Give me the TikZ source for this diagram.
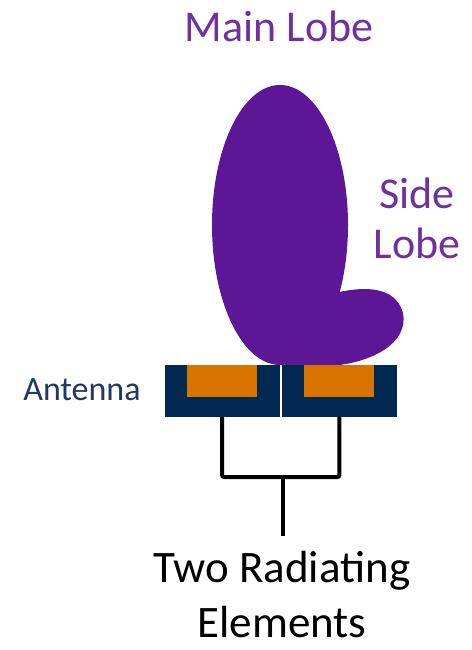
\documentclass[tikz,border=0pt]{standalone}
\usepackage{fontspec}
\setmainfont{Carlito}
\usetikzlibrary{positioning}

\definecolor{lobepurple}{RGB}{92,22,150}
\definecolor{labelpurple}{RGB}{112,48,160}
\definecolor{boardnavy}{RGB}{0,40,80}
\definecolor{antnavy}{RGB}{31,56,100}
\definecolor{patchorange}{RGB}{217,115,0}

\begin{document}
\begin{tikzpicture}[
		x=1pt,y=-1pt,
		lobe/.style={
			fill=lobepurple
		},
		biglabel/.style={
			font=\fontsize{44}{50}\selectfont,
			text=labelpurple,
			inner sep=0pt,
			anchor=base
		},
		cell/.style={
			fill=boardnavy,
			minimum width=115pt,
			minimum height=52pt,
			inner sep=0pt
		},
		patch/.style={
			fill=patchorange,
			minimum width=70pt,
			minimum height=32pt,
			inner sep=0pt
		},
		wire/.style={
			draw=black,
			line width=4pt,
			rounded corners=2pt
		}
	]
	\useasboundingbox (0,0) rectangle (471,650);

	% lobes of the radiation pattern
	\fill[lobe] (335,293) .. controls (360,287) and (395,284) .. (403,313)
		.. controls (409,343) and (372,363) .. (330,366) -- (285,367) -- (280,300) -- cycle;
	\fill[lobe] (280,225) ellipse [x radius=68pt, y radius=140pt];

	\node[biglabel] (mainlbl) at (279,42) {Main Lobe};
	\node[biglabel] (sidelbl) at (417,208) {Side};
	\node[biglabel] (lobelbl) at (417,258) {Lobe};

	% antenna with two elements
	\node[cell] (cellL) at (222,391) {};
	\node[cell,right=2pt of cellL] (cellR) {};
	\node[patch,anchor=north] (patchL) at (cellL.north) {};
	\node[patch,anchor=north] (patchR) at (cellR.north) {};

	\node[font=\fontsize{34}{40}\selectfont,text=antnavy,anchor=base,inner sep=0pt]
		(antlbl) at (82,400) {Antenna};

	% feed lines
	\coordinate (junc) at (283,477);
	\coordinate (feed) at (283,536);
	\draw[wire] (cellL.south) |- (junc) -| (cellR.south);
	\draw[wire] (junc) -- (feed);

	\node[font=\fontsize{45}{55}\selectfont,anchor=base,inner sep=0pt]
		(elemlbl1) at (282,582) {Two Radiating};
	\node[font=\fontsize{45}{55}\selectfont,anchor=base,inner sep=0pt]
		(elemlbl2) at (282,637) {Elements};

\end{tikzpicture}
\end{document}
